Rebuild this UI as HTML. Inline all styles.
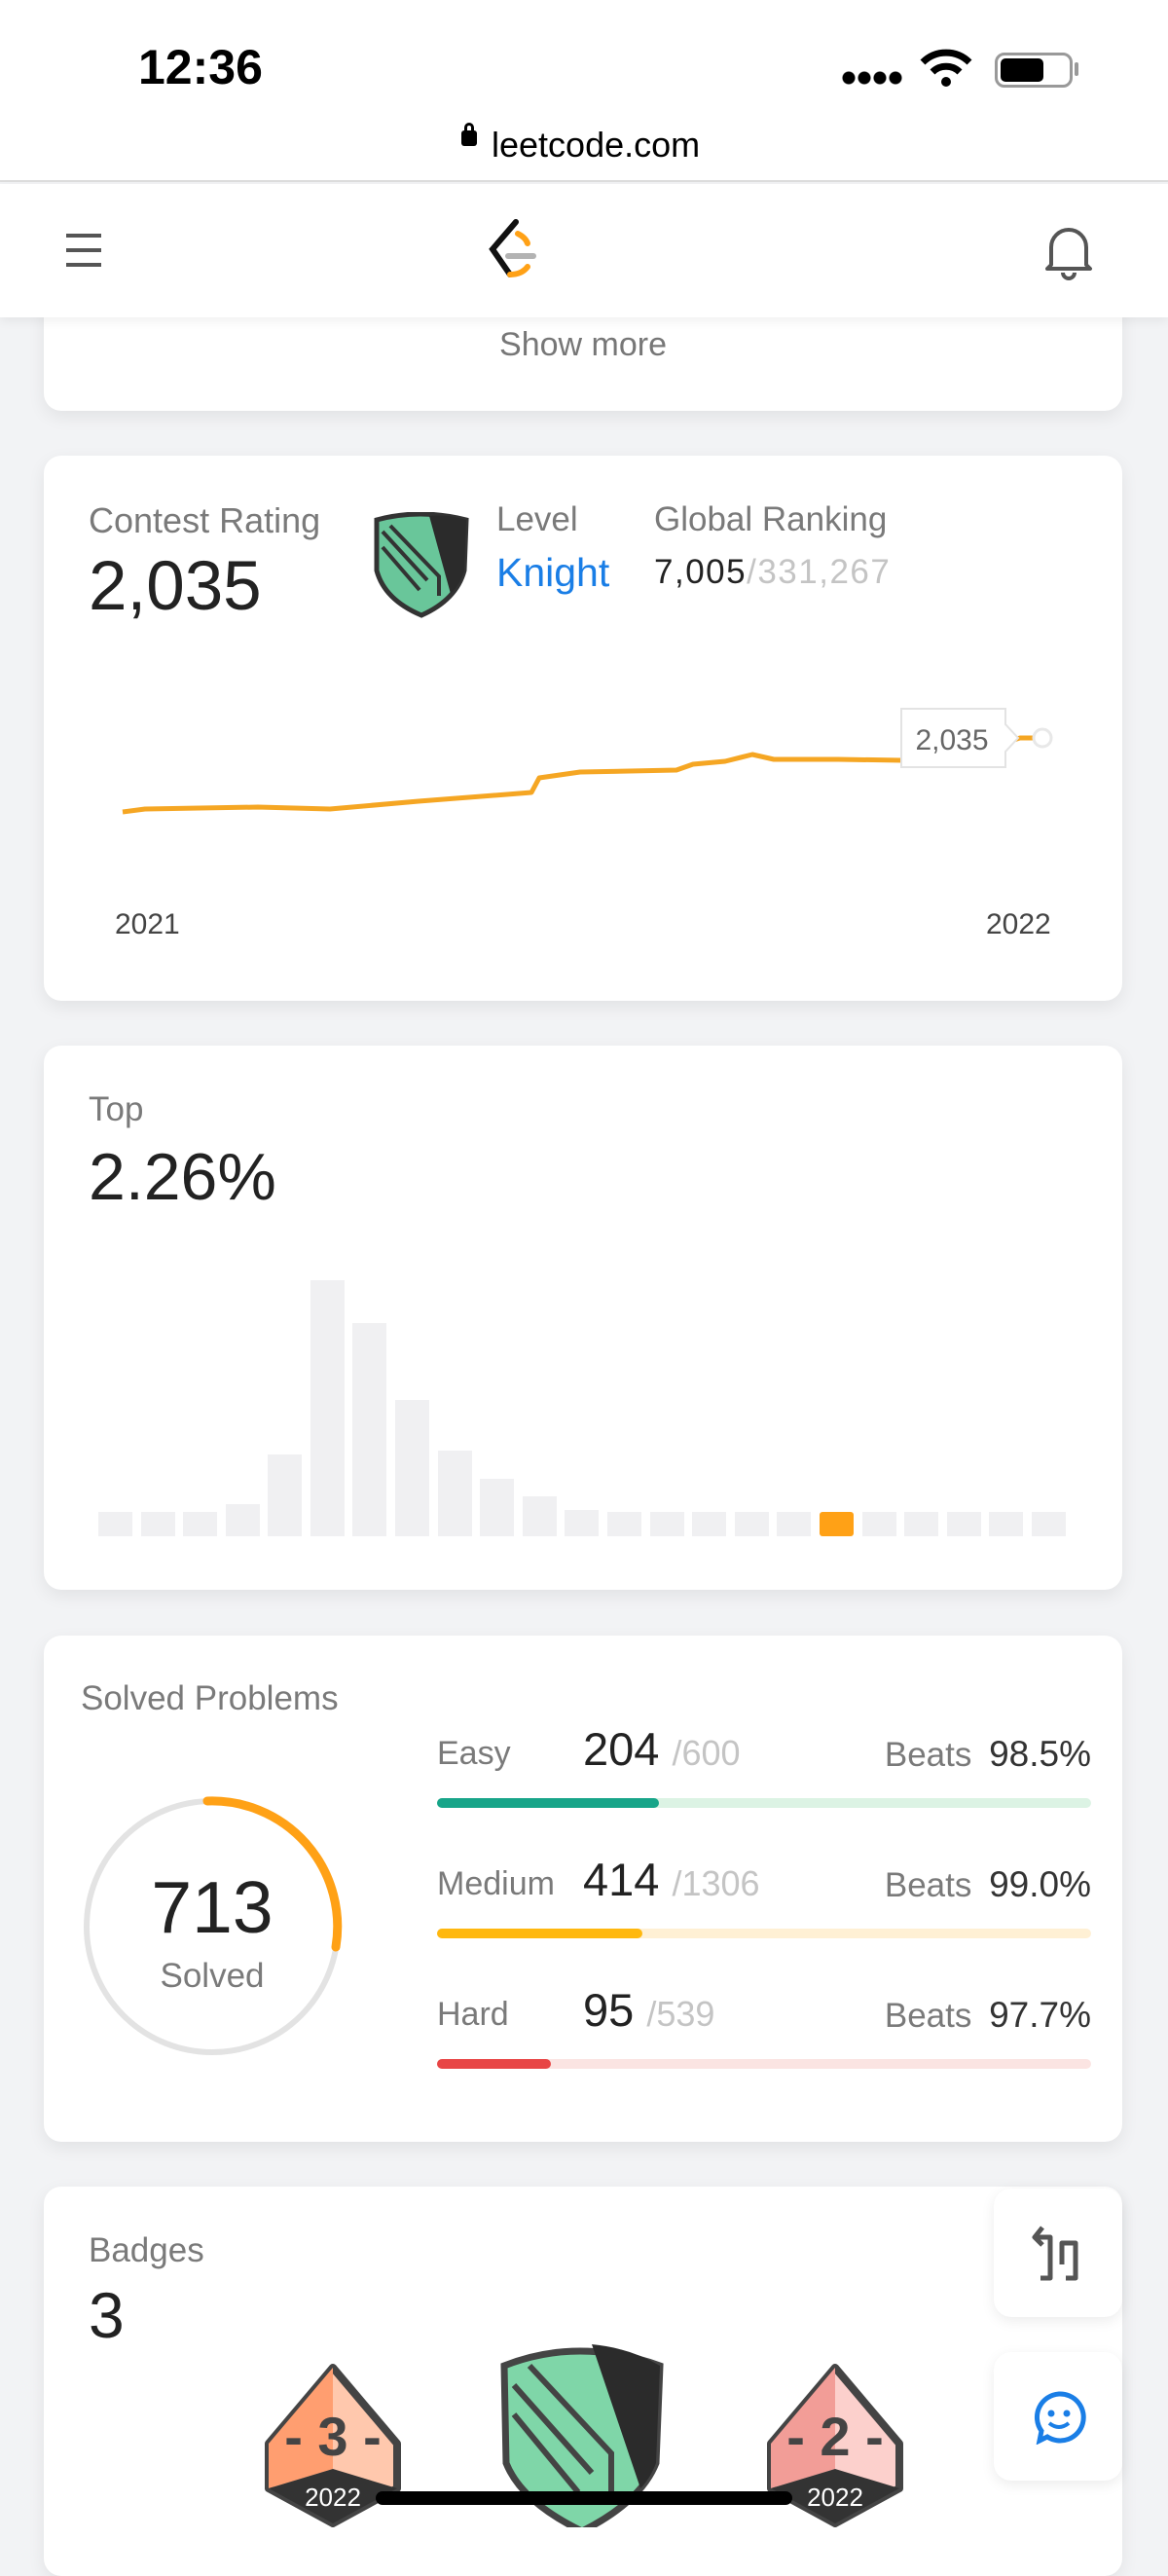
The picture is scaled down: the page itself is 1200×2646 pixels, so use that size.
<!DOCTYPE html>
<html><head><meta charset="utf-8"><style>
*{margin:0;padding:0;box-sizing:border-box}
body{width:1200px;height:2596px;background:#f2f3f5;font-family:"Liberation Sans",sans-serif;position:relative;overflow:hidden;color:#262626}
.a{position:absolute;white-space:nowrap}
.card{position:absolute;left:45px;width:1108px;background:#fff;border-radius:18px;box-shadow:0 6px 18px rgba(0,0,0,.07)}
</style></head><body>
<div class="a" style="left:0;top:0;width:1200px;height:187px;background:#fff;border-bottom:2px solid #ddd"></div>
<div class="a" style="left:142px;top:40px;font-size:50px;font-weight:bold;color:#000">12:36</div>
<div class="a" style="left:864px;top:72px;width:64px;height:16px;background:radial-gradient(circle,#000 6px,transparent 7px) 0 0/16px 16px repeat-x"></div>
<svg class="a" style="left:944px;top:48px" width="56" height="44" viewBox="0 0 56 44"><path d="M4 16 A34 34 0 0 1 52 16" stroke="#000" stroke-width="7" fill="none"/><path d="M14 26 A20 20 0 0 1 42 26" stroke="#000" stroke-width="7" fill="none"/><circle cx="28" cy="36" r="5" fill="#000"/></svg>
<div class="a" style="left:1022px;top:54px;width:80px;height:36px;border:3px solid #999;border-radius:10px"></div>
<div class="a" style="left:1028px;top:60px;width:44px;height:24px;background:#000;border-radius:5px"></div>
<div class="a" style="left:1104px;top:64px;width:4px;height:14px;background:#999;border-radius:2px"></div>
<div class="a" style="left:474px;top:134px;width:16px;height:16px;background:#000;border-radius:3px"></div>
<div class="a" style="left:477px;top:126px;width:10px;height:12px;border:3px solid #000;border-radius:6px 6px 0 0"></div>
<div class="a" style="left:505px;top:128px;font-size:36px;color:#000">leetcode.com</div>
<div class="a" style="left:0;top:189px;width:1200px;height:137px;background:#fff;box-shadow:0 4px 10px rgba(0,0,0,.06);z-index:2"></div>
<div class="a" style="left:68px;top:240px;width:36px;height:34px;border-top:4px solid #555;border-bottom:4px solid #555;z-index:3"></div>
<div class="a" style="left:68px;top:255px;width:36px;height:4px;background:#555;z-index:3"></div>
<svg class="a" style="left:496px;top:224px;z-index:3" width="60" height="64" viewBox="0 0 60 64"><path d="M34 4 L10 32 L28 58" stroke="#111" stroke-width="6" fill="none" stroke-linecap="round"/><path d="M28 58 Q40 58 46 50" stroke="#ffa116" stroke-width="6" fill="none" stroke-linecap="round"/><path d="M36 16 Q44 20 46 26" stroke="#ffa116" stroke-width="6" fill="none" stroke-linecap="round"/><path d="M26 39 H52" stroke="#b3b3b3" stroke-width="6" stroke-linecap="round"/></svg>
<svg class="a" style="left:1072px;top:228px;z-index:3" width="52" height="60" viewBox="0 0 52 60"><path d="M8 44 V26 A18 18 0 0 1 44 26 V44 L48 48 H4 Z" stroke="#555" stroke-width="4" fill="none" stroke-linejoin="round"/><path d="M20 52 A6 6 0 0 0 32 52" stroke="#555" stroke-width="4" fill="none"/></svg>

<div class="card" style="top:300px;height:122px"></div>
<div class="a" style="left:0;width:1198px;text-align:center;top:335px;font-size:34px;color:#777">Show more</div>

<div class="card" style="top:468px;height:560px"></div>
<div class="a" style="left:91px;top:514px;font-size:36px;color:#7a7a7a">Contest Rating</div>
<div class="a" style="left:91px;top:562px;font-size:71px;color:#222">2,035</div>
<svg class="a" style="left:381px;top:526px" width="104" height="110" viewBox="0 0 104 110"><path d="M6 8 Q50 -4 98 8 L96 60 Q88 90 52 106 Q14 90 6 60 Z" fill="#69c69a" stroke="#333" stroke-width="5"/><path d="M60 4 Q80 2 98 8 L96 60 Q92 74 82 84 Z" fill="#2b2b2b"/><path d="M12 20 L58 70 M12 36 L50 80 M20 14 L70 66 V86" stroke="#333" stroke-width="4" fill="none"/></svg>
<div class="a" style="left:510px;top:514px;font-size:35px;color:#7a7a7a">Level</div>
<div class="a" style="left:510px;top:565px;font-size:41px;color:#1a7ee6">Knight</div>
<div class="a" style="left:672px;top:514px;font-size:35px;color:#7a7a7a">Global Ranking</div>
<div class="a" style="left:672px;top:568px;font-size:35px;letter-spacing:1.5px;color:#222">7,005<span style="color:#c4c4c4">/331,267</span></div>
<svg class="a" style="left:0;top:700px" width="1200" height="160">
<polyline fill="none" stroke="#f5a623" stroke-width="5" stroke-linejoin="round" points="126,134 149,131 265,129 339,131 430,123 546,114 554,99 596,93 695,91 712,85 745,82 773,75 795,80 861,80 927,81 985,77 1048,58 1062,58"/>
<circle cx="1071" cy="58" r="9" fill="#fff" stroke="#e8e8e8" stroke-width="3"/>
<path d="M926 28 H1033 V44 L1046 58 L1033 72 V88 H926 Z" fill="#fff" stroke="#e3e3e3" stroke-width="2"/>
<text x="978" y="70" text-anchor="middle" font-size="30" fill="#666" font-family="Liberation Sans">2,035</text></svg>
<div class="a" style="left:118px;top:933px;font-size:30px;color:#444">2021</div>
<div class="a" style="left:1013px;top:933px;font-size:30px;color:#444">2022</div>

<div class="card" style="top:1074px;height:559px"></div>
<div class="a" style="left:91px;top:1120px;font-size:35px;color:#7a7a7a">Top</div>
<div class="a" style="left:91px;top:1170px;font-size:68px;color:#222">2.26%</div>
<svg class="a" style="left:0;top:1300px" width="1200" height="280">
<g fill="#f0f0f2">
<rect x="101" y="253" width="35" height="25"/><rect x="145" y="253" width="35" height="25"/><rect x="188" y="253" width="35" height="25"/><rect x="232" y="245" width="35" height="33"/><rect x="275" y="194" width="35" height="84"/><rect x="319" y="15" width="35" height="263"/><rect x="362" y="59" width="35" height="219"/><rect x="406" y="138" width="35" height="140"/><rect x="450" y="190" width="35" height="88"/><rect x="493" y="219" width="35" height="59"/><rect x="537" y="237" width="35" height="41"/><rect x="580" y="251" width="35" height="27"/><rect x="624" y="253" width="35" height="25"/><rect x="668" y="253" width="35" height="25"/><rect x="711" y="253" width="35" height="25"/><rect x="755" y="253" width="35" height="25"/><rect x="886" y="253" width="35" height="25"/><rect x="929" y="253" width="35" height="25"/><rect x="973" y="253" width="35" height="25"/><rect x="1016" y="253" width="35" height="25"/><rect x="1060" y="253" width="35" height="25"/><rect x="798" y="253" width="35" height="25"/></g>
<rect x="842" y="253" width="35" height="25" fill="#ffa116" rx="3"/>
</svg>

<div class="card" style="top:1680px;height:520px"></div>
<div class="a" style="left:83px;top:1725px;font-size:35px;color:#7a7a7a">Solved Problems</div>
<svg class="a" style="left:80px;top:1840px" width="280" height="280" viewBox="0 0 280 280"><circle cx="138" cy="139" r="129" fill="none" stroke="#e3e3e3" stroke-width="6"/><path d="M133 10 A129 129 0 0 1 265 160" fill="none" stroke="#ffa116" stroke-width="9" stroke-linecap="round"/></svg>
<div class="a" style="left:118px;top:1916px;width:200px;text-align:center;font-size:75px;color:#222">713</div>
<div class="a" style="left:118px;top:2010px;width:200px;text-align:center;font-size:35px;color:#7a7a7a">Solved</div>

<div class="a" style="left:449px;top:1782px;font-size:34px;color:#7a7a7a">Easy</div>
<div class="a" style="left:599px;top:1769px;font-size:47px;color:#222">204 <span style="font-size:36px;color:#c4c4c4">/600</span></div>
<div class="a" style="right:79px;top:1781px;font-size:35px;color:#7a7a7a">Beats <span style="color:#333;margin-left:8px;font-size:37px">98.5%</span></div>
<div class="a" style="left:449px;top:1847px;width:672px;height:10px;border-radius:5px;background:#dcf3e4"></div>
<div class="a" style="left:449px;top:1847px;width:228px;height:10px;border-radius:5px;background:#17a589"></div>
<div class="a" style="left:449px;top:1916px;font-size:34px;color:#7a7a7a">Medium</div>
<div class="a" style="left:599px;top:1903px;font-size:47px;color:#222">414 <span style="font-size:36px;color:#c4c4c4">/1306</span></div>
<div class="a" style="right:79px;top:1915px;font-size:35px;color:#7a7a7a">Beats <span style="color:#333;margin-left:8px;font-size:37px">99.0%</span></div>
<div class="a" style="left:449px;top:1981px;width:672px;height:10px;border-radius:5px;background:#fff0d4"></div>
<div class="a" style="left:449px;top:1981px;width:211px;height:10px;border-radius:5px;background:#ffb80f"></div>
<div class="a" style="left:449px;top:2050px;font-size:34px;color:#7a7a7a">Hard</div>
<div class="a" style="left:599px;top:2037px;font-size:47px;color:#222">95 <span style="font-size:36px;color:#c4c4c4">/539</span></div>
<div class="a" style="right:79px;top:2049px;font-size:35px;color:#7a7a7a">Beats <span style="color:#333;margin-left:8px;font-size:37px">97.7%</span></div>
<div class="a" style="left:449px;top:2115px;width:672px;height:10px;border-radius:5px;background:#fbe4e2"></div>
<div class="a" style="left:449px;top:2115px;width:117px;height:10px;border-radius:5px;background:#e84545"></div>

<div class="card" style="top:2246px;height:400px"></div>
<div class="a" style="left:91px;top:2292px;font-size:35px;color:#7a7a7a">Badges</div>
<div class="a" style="left:91px;top:2340px;font-size:66px;color:#222">3</div>
<div class="a" style="left:1021px;top:2248px;width:132px;height:132px;background:#fff;border-radius:18px;box-shadow:0 4px 14px rgba(0,0,0,.08)"></div>
<svg class="a" style="left:1055px;top:2282px" width="64" height="64" viewBox="0 0 64 64"><path d="M16 6 L8 16 L16 24 M8 16 H24 V58 H14 M40 58 H50 V22 H36 V44" stroke="#555" stroke-width="5" fill="none" stroke-linejoin="round"/></svg>
<div class="a" style="left:1021px;top:2416px;width:132px;height:132px;background:#fff;border-radius:18px;box-shadow:0 4px 14px rgba(0,0,0,.08)"></div>
<svg class="a" style="left:1060px;top:2455px" width="56" height="56" viewBox="0 0 56 56"><path d="M28 4 A24 24 0 1 1 16 48 L8 52 L10 42 A24 24 0 0 1 28 4 Z" stroke="#1a7ee6" stroke-width="5" fill="none"/><circle cx="20" cy="24" r="3.5" fill="#1a7ee6"/><circle cx="36" cy="24" r="3.5" fill="#1a7ee6"/><path d="M18 34 Q28 42 38 34" stroke="#1a7ee6" stroke-width="4" fill="none"/></svg>
<svg class="a" style="left:270px;top:2426px" width="150" height="170" viewBox="0 0 150 170"><path d="M72 6 L138 84 V130 L72 166 L6 130 V84 Z" fill="#ffc8ad" stroke="#444" stroke-width="8" stroke-linejoin="round"/><path d="M72 6 L6 84 V130 L72 110 Z" fill="#ff9e70"/><path d="M6 130 L72 110 L138 130 L72 166 Z" fill="#333"/><text x="72" y="96" text-anchor="middle" font-size="56" font-weight="bold" fill="#444" font-family="Liberation Sans">- 3 -</text><text x="72" y="148" text-anchor="middle" font-size="26" fill="#fff" font-family="Liberation Sans">2022</text></svg>
<svg class="a" style="left:788px;top:2426px" width="150" height="170" viewBox="0 0 150 170"><path d="M70 6 L136 84 V130 L70 166 L4 130 V84 Z" fill="#fcd0cc" stroke="#444" stroke-width="8" stroke-linejoin="round"/><path d="M70 6 L4 84 V130 L70 110 Z" fill="#f29d97"/><path d="M4 130 L70 110 L136 130 L70 166 Z" fill="#333"/><text x="70" y="96" text-anchor="middle" font-size="56" font-weight="bold" fill="#444" font-family="Liberation Sans">- 2 -</text><text x="70" y="148" text-anchor="middle" font-size="26" fill="#fff" font-family="Liberation Sans">2022</text></svg>
<svg class="a" style="left:508px;top:2400px" width="180" height="196" viewBox="0 0 180 196"><path d="M10 30 Q86 0 170 30 L166 130 Q150 170 90 200 Q28 170 12 130 Z" fill="#7fd6a8" stroke="#444" stroke-width="7"/><path d="M100 8 Q140 12 170 30 L166 130 Q160 146 150 156 Z" fill="#2b2b2b"/><path d="M20 50 L100 140 M20 80 L86 160 M36 30 L120 120 V170" stroke="#444" stroke-width="6" fill="none"/></svg>
<div class="a" style="left:386px;top:2559px;width:428px;height:14px;background:#000;border-radius:7px"></div>
</body></html>
